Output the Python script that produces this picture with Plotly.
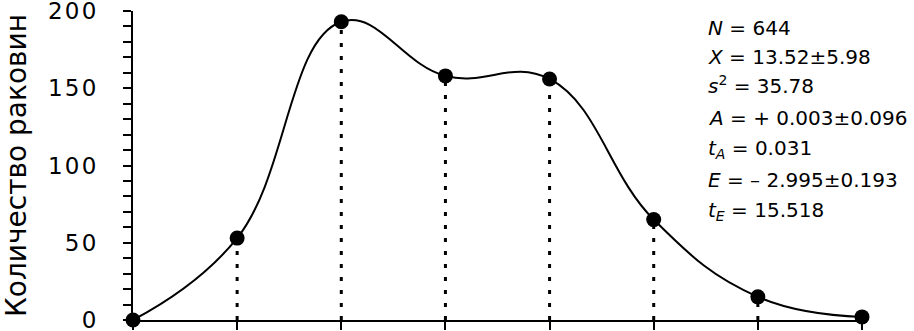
import plotly.graph_objects as go

categories = [1, 2, 3, 4, 5, 6, 7, 8]
counts = [0, 53, 193, 158, 156, 65, 15, 2]
y_ticks = [0, 50, 100, 150, 200]
HS = "\u200a"
y_tick_labels = [HS.join(str(v)) for v in y_ticks]
stat_lines = [
    "<i>N</i> = 644",
    "<i>X</i> = 13.52±5.98",
    "<i>s</i><sup>2</sup> = 35.78",
    "<i>A</i> = + 0.003±0.096",
    "<i>t<sub>A</sub></i> = 0.031",
    "<i>E</i> = – 2.995±0.193",
    "<i>t<sub>E</sub></i> = 15.518",
]
y_title = "Количество раковин"

# dotted drop lines built from the data
drop_x, drop_y = [], []
for c, v in zip(categories, counts):
    drop_x += [c, c, None]
    drop_y += [0, v, None]

fig = go.Figure()
fig.add_trace(go.Scatter(x=drop_x, y=drop_y, mode="lines",
                         line=dict(color="black", width=3, dash="4px,9px"),
                         hoverinfo="skip", cliponaxis=False))
fig.add_trace(go.Scatter(x=categories, y=counts, mode="lines+markers",
                         line=dict(color="black", width=2, shape="spline", smoothing=1.2),
                         marker=dict(color="black", size=15),
                         cliponaxis=False))

font = "DejaVu Sans, Verdana, sans-serif"
line_y = [28, 57, 85, 118, 149, 180, 211]
for txt, py in zip(stat_lines, line_y):
    fig.add_annotation(text=txt, xref="paper", yref="paper",
                       x=(706 - 133) / (862 - 133), y=1 - (py - 11) / 309,
                       xanchor="left", yanchor="middle", showarrow=False,
                       font=dict(family=font, size=20, color="black"))

fig.update_layout(
    width=914, height=331,
    margin=dict(l=133, r=52, t=11, b=11, autoexpand=False),
    paper_bgcolor="white", plot_bgcolor="white",
    showlegend=False,
    font=dict(family=font, color="black"),
)
fig.update_xaxes(range=[1, 8], showgrid=False, zeroline=False, automargin=False,
                 showline=True, linecolor="black", linewidth=2,
                 tickmode="array", tickvals=categories, ticktext=[""] * len(categories),
                 ticks="outside", ticklen=8, tickwidth=2, tickcolor="black")
fig.update_yaxes(range=[0, 200], showgrid=False, zeroline=False, automargin=False,
                 showline=True, linecolor="black", linewidth=2,
                 tickmode="array", tickvals=y_ticks, ticktext=y_tick_labels,
                 ticks="outside", ticklen=8, tickwidth=2, tickcolor="black",
                 minor=dict(dtick=10, ticklen=8, tickwidth=2, tickcolor="black", ticks="outside"),
                 tickfont=dict(size=23, family=font), ticklabelstandoff=22,
                 ticklabeloverflow="allow",
                 title=dict(text=y_title, font=dict(size=28, family=font), standoff=14))

fig.write_html("out.html", config={"displayModeBar": False},
               post_script="document.body.style.margin='0';")
